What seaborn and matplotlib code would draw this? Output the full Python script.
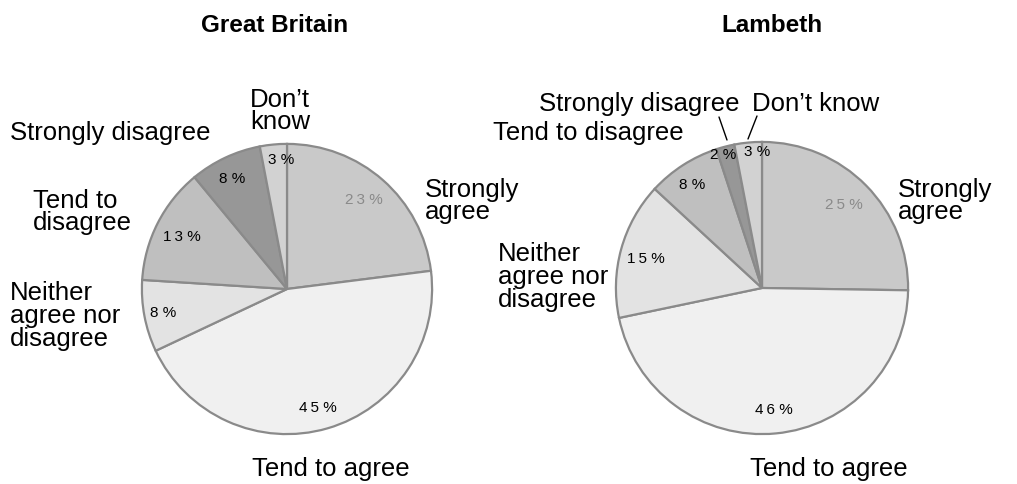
import numpy as np
import matplotlib
matplotlib.use("Agg")
import matplotlib.pyplot as plt
import seaborn as sns

sns.set_theme(style="white")
plt.rcParams["font.family"] = ["Liberation Sans", "DejaVu Sans"]
plt.rcParams["text.color"] = "black"

# Survey responses, clockwise from 12 o'clock
categories = ["Strongly agree", "Tend to agree", "Neither agree nor disagree",
              "Tend to disagree", "Strongly disagree", "Don't know"]
gb_values = [23, 45, 8, 13, 8, 3]
lambeth_values = [25, 46, 15, 8, 2, 3]
titles = ["Great Britain", "Lambeth"]

# Slice fills (greyscale) and label styling
slice_colors = ["#c9c9c9", "#f0f0f0", "#e3e3e3", "#bfbfbf", "#979797", "#d2d2d2"]
pct_colors = ["#8a8a8a", "black", "black", "black", "black", "black"]
# percentage label placement: radius fraction and angular nudge (deg) per slice
gb_pct_r = [0.81, 0.85, 0.87, 0.81, 0.85, 0.89]
gb_pct_da = [0.8, -1.5, 0.0, 0.6, 1.4, -2.6]
lb_pct_r = [0.80, 0.84, 0.82, 0.85, 0.95, 0.93]
lb_pct_da = [0.8, 0.0, 1.2, 1.4, 1.8, -3.4]

W, H = 1017, 484
fig = plt.figure(figsize=(W / 100, H / 100), dpi=100)


def px_axes(cx, cy, r):
    return fig.add_axes([(cx - r) / W, (H - cy - r) / H, 2 * r / W, 2 * r / H])


def pct_text(v):
    return "\u2009".join(str(v)) + " %"


def draw_pie(ax, values, radii, nudges):
    wedges, _ = ax.pie(values, colors=slice_colors, startangle=90, counterclock=False,
                       wedgeprops=dict(edgecolor="#8a8a8a", linewidth=1.6))
    for w, v, rr, da, c in zip(wedges, values, radii, nudges, pct_colors):
        mid = np.deg2rad((w.theta1 + w.theta2) / 2 + da)
        ax.text(rr * np.cos(mid), rr * np.sin(mid), pct_text(v), ha="center", va="center",
                fontsize=11, color=c)
    ax.set_xlim(-1.02, 1.02)
    ax.set_ylim(-1.02, 1.02)
    ax.set_aspect("equal")
    ax.axis("off")


ax1 = px_axes(287, 289, 148)
draw_pie(ax1, gb_values, gb_pct_r, gb_pct_da)
ax2 = px_axes(762, 288, 149)
draw_pie(ax2, lambeth_values, lb_pct_r, lb_pct_da)


def ftext(x, y, s, ha="left"):
    fig.text(x / W, 1 - y / H, s, ha=ha, va="center", fontsize=18.5,
             linespacing=0.93, multialignment="left" if ha == "left" else "center")


# Titles
fig.text(275 / W, 1 - 25 / H, titles[0], ha="center", va="center", fontsize=17.5, fontweight="bold")
fig.text(772 / W, 1 - 25 / H, titles[1], ha="center", va="center", fontsize=17.5, fontweight="bold")

# Great Britain category labels
ftext(280, 111, "Don\u2019t\nknow", ha="center")
ftext(10, 133, "Strongly disagree")
ftext(33, 212, "Tend to\ndisagree")
ftext(10, 316, "Neither\nagree nor\ndisagree")
ftext(425, 201, "Strongly\nagree")
ftext(331, 469, "Tend to agree", ha="center")

# Lambeth category labels
ftext(539, 104, "Strongly disagree")
ftext(752, 104, "Don\u2019t know")
ftext(493, 133, "Tend to disagree")
ftext(498, 277, "Neither\nagree nor\ndisagree")
ftext(898, 201, "Strongly\nagree")
ftext(829, 469, "Tend to agree", ha="center")

# Leader lines for the two narrow Lambeth slices
for (x0, y0), (x1, y1) in [((719, 117), (727, 140)), ((757, 116), (748, 139))]:
    fig.add_artist(plt.Line2D([x0 / W, x1 / W], [1 - y0 / H, 1 - y1 / H],
                              color="black", linewidth=1.0, transform=fig.transFigure))

fig.savefig("out.png", dpi=100, facecolor="white")
